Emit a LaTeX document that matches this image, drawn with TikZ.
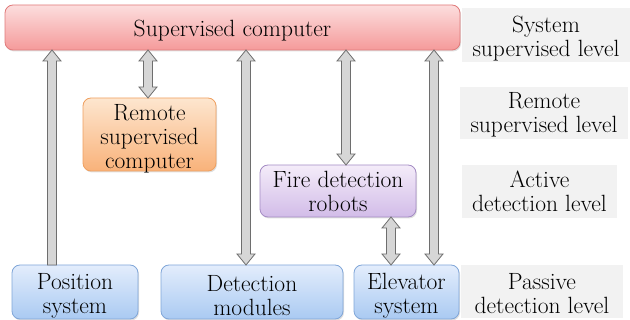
\documentclass[tikz,border=0pt]{standalone}
\usepackage{fontspec}
\usetikzlibrary{calc,shadows}

\definecolor{redtop}{HTML}{FCDEDE}
\definecolor{redbot}{HTML}{F59A9A}
\definecolor{redline}{HTML}{E07A7A}
\definecolor{orgtop}{HTML}{FDE6CF}
\definecolor{orgbot}{HTML}{F9B27A}
\definecolor{orgline}{HTML}{EFA060}
\definecolor{purtop}{HTML}{F4ECF9}
\definecolor{purbot}{HTML}{D2BCE8}
\definecolor{purline}{HTML}{A48CC4}
\definecolor{blutop}{HTML}{E3EDFC}
\definecolor{blubot}{HTML}{AACAF2}
\definecolor{bluline}{HTML}{80A6D8}
\definecolor{lvlgray}{HTML}{F2F2F2}
\definecolor{arrfill}{HTML}{D6D6D6}
\definecolor{arrline}{HTML}{6E6E6E}

\tikzset{
  txt/.style={align=center, inner sep=0pt, font=\fontsize{23.5}{24}\selectfont},
  box/.style={rounded corners=8pt, line width=0.8pt, outer sep=0pt, inner sep=0pt,
    drop shadow={opacity=0.25, shadow xshift=1pt, shadow yshift=-1.5pt}},
  redbox/.style={box, draw=redline, top color=redtop, bottom color=redbot},
  orgbox/.style={box, draw=orgline, top color=orgtop, bottom color=orgbot},
  purbox/.style={box, draw=purline, top color=purtop, bottom color=purbot},
  blubox/.style={box, draw=bluline, top color=blutop, bottom color=blubot},
  lvl/.style={fill=lvlgray, outer sep=0pt, inner sep=0pt},
  barrow/.style={fill=arrfill, draw=arrline, line width=0.8pt, line join=miter},
}

% vertical block arrow with heads at both ends: #1 upper end, #2 lower end
\newcommand\BArrowTwo[2]{%
  \path[barrow] let \p1=#1, \p2=#2 in
    (\x1,\y1) -- (\x1+9pt,\y1-11pt) -- (\x1+4.5pt,\y1-11pt) -- (\x1+4.5pt,\y2+11pt)
    -- (\x1+9pt,\y2+11pt) -- (\x1,\y2) -- (\x1-9pt,\y2+11pt) -- (\x1-4.5pt,\y2+11pt)
    -- (\x1-4.5pt,\y1-11pt) -- (\x1-9pt,\y1-11pt) -- cycle;}
% vertical block arrow with a head at the upper end only
\newcommand\BArrowUp[2]{%
  \path[barrow] let \p1=#1, \p2=#2 in
    (\x1,\y1) -- (\x1+9pt,\y1-11pt) -- (\x1+4.5pt,\y1-11pt) -- (\x1+4.5pt,\y2)
    -- (\x1-4.5pt,\y2) -- (\x1-4.5pt,\y1-11pt) -- (\x1-9pt,\y1-11pt) -- cycle;}

\begin{document}
\begin{tikzpicture}[x=1pt, y=-1pt]
\useasboundingbox (0,0) rectangle (630,320);

% level label panels
\node[lvl, minimum width=168pt, minimum height=54pt] (l1) at (546,35) {};
\node[lvl, minimum width=168pt, minimum height=52pt] (l2) at (544,113) {};
\node[lvl, minimum width=155pt, minimum height=53pt] (l3) at (539.5,191.5) {};
\node[lvl, minimum width=162pt, minimum height=53pt] (l4) at (542,291.5) {};

% component boxes
\node[redbox, minimum width=455pt, minimum height=45pt] (sup) at (232.5,27.5) {};
\node[orgbox, minimum width=133pt, minimum height=73pt] (rem) at (149.5,134.5) {};
\node[purbox, minimum width=156pt, minimum height=52pt] (fire) at (338,191) {};
\node[blubox, minimum width=126pt, minimum height=54pt] (pos) at (75,292) {};
\node[blubox, minimum width=182pt, minimum height=54pt] (det) at (252,292) {};
\node[blubox, minimum width=105pt, minimum height=54pt] (elev) at (406.5,292) {};

% texts
\node[txt] (l1t) at ([yshift=-4pt]l1.center) {System\\supervised level};
\node[txt] (l2t) at ([yshift=-2pt]l2.center) {Remote\\supervised level};
\node[txt] (l3t) at (l3.center) {Active\\detection level};
\node[txt] (l4t) at ([yshift=-2pt]l4.center) {Passive\\detection level};
\node[txt] (supt) at ([yshift=-3.5pt]sup.center) {Supervised computer};
\node[txt] (remt) at ([yshift=-4.5pt]rem.center) {Remote\\supervised\\computer};
\node[txt] (firet) at (fire.center) {Fire detection\\robots};
\node[txt] (post) at ([yshift=-4pt]pos.center) {Position\\system};
\node[txt] (dett) at ([yshift=-4pt]det.center) {Detection\\modules};
\node[txt] (elevt) at ([yshift=-4pt]elev.center) {Elevator\\system};

% arrow columns
\coordinate (ca) at (52,0);
\coordinate (cb) at (148,0);
\coordinate (cc) at (246,0);
\coordinate (cd) at (346,0);
\coordinate (ce) at (391,0);
\coordinate (cf) at (434,0);

% links
\BArrowUp{(sup.south -| ca)}{(pos.north -| ca)}
\BArrowTwo{(sup.south -| cb)}{(rem.north -| cb)}
\BArrowTwo{(sup.south -| cc)}{(det.north -| cc)}
\BArrowTwo{(sup.south -| cd)}{(fire.north -| cd)}
\BArrowTwo{(fire.south -| ce)}{(elev.north -| ce)}
\BArrowTwo{(sup.south -| cf)}{(elev.north -| cf)}
\end{tikzpicture}
\end{document}
